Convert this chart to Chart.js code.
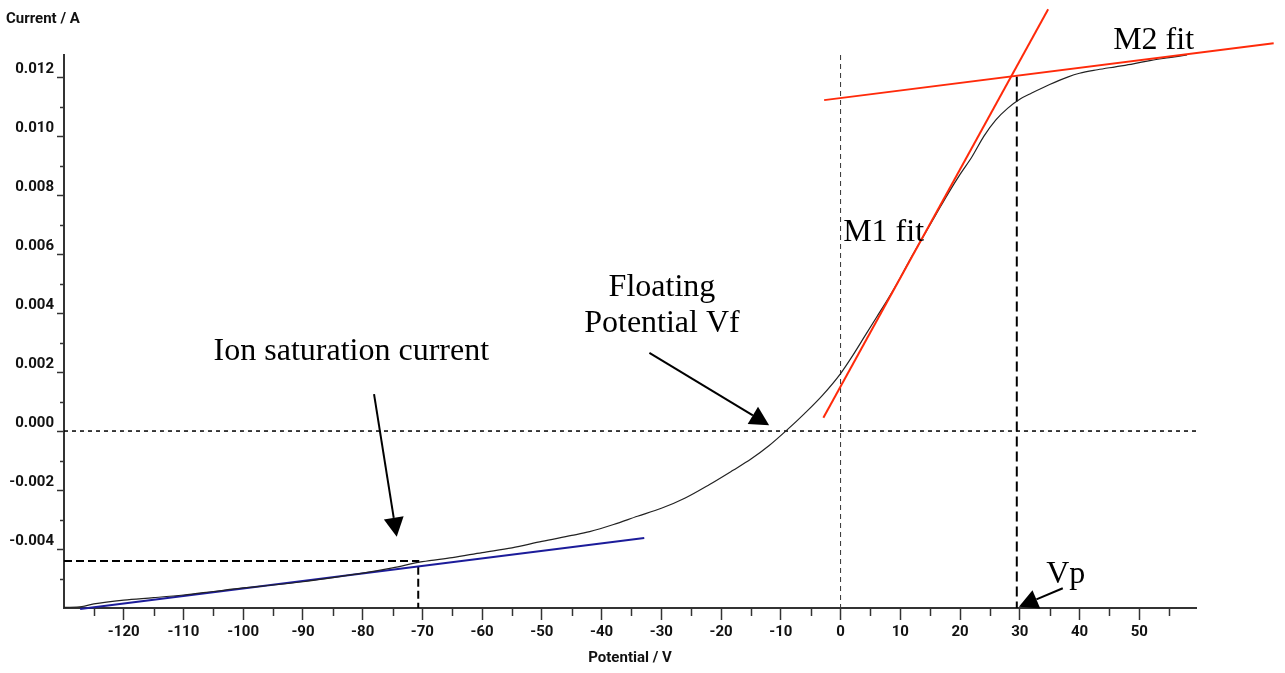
<!DOCTYPE html>
<html><head><meta charset="utf-8">
<script src="https://cdn.jsdelivr.net/npm/chart.js@4.4.1/dist/chart.umd.min.js"></script>
<style>html,body{margin:0;padding:0;background:#fff;}canvas{display:block;}</style>
</head><body>
<canvas id="c" width="1285" height="673"></canvas>
<script>
// ---- data (Potential in V, Current in A) ----
const potential = [-130,-127,-125,-120,-115,-110,-105,-100,-95,-90,-85,-80,-75,-70,-65,-60,-55,-50,-45,-42,-38,-34,-30,-26,-22,-18,-15,-12,-9,-6,-3,0,2,4,6,8,10,12,14,16,18,20,22,24,26,28,30,32,35,38,40,43,46,49,52,55,58];
const current = [-0.00598,-0.00595,-0.00586,-0.00573,-0.00565,-0.00556,-0.00544,-0.00532,-0.00522,-0.00511,-0.00497,-0.00482,-0.00464,-0.00443,-0.00429,-0.00412,-0.00396,-0.00374,-0.00354,-0.00341,-0.00317,-0.00289,-0.00262,-0.00227,-0.00182,-0.00133,-0.00095,-0.00050,0.00003,0.00060,0.00122,0.00195,0.00255,0.00320,0.00385,0.00450,0.00520,0.00595,0.00665,0.00735,0.00805,0.00870,0.00930,0.01000,0.01055,0.01095,0.01125,0.01146,0.01175,0.01200,0.01213,0.01225,0.01235,0.01245,0.01257,0.01266,0.01275];
const m1FitV = [-2.88, 34.75];
const m1FitI = [0.00045, 0.01430];
const m2FitV = [-2.75, 72.5];
const m2FitI = [0.01122, 0.01315];
const ionFitV = [-127.3, -32.86];
const ionFitI = [-0.00603, -0.00363];
const ionSatV = [-130, -70.7, -70.7];
const ionSatI = [-0.00441, -0.00441, -0.006];
const vpV = [29.5, 29.5];
const vpI = [0.01202, -0.006];
const zeroV = [0, 0];
const zeroVI = [0.01275, -0.006];
const zeroIV = [-130, 59.5];
const zeroII = [0, 0];
const xTickValues = [-125,-120,-115,-110,-105,-100,-95,-90,-85,-80,-75,-70,-65,-60,-55,-50,-45,-40,-35,-30,-25,-20,-15,-10,-5,0,5,10,15,20,25,30,35,40,45,50,55];
const yTickValues = [-0.005,-0.004,-0.003,-0.002,-0.001,0,0.001,0.002,0.003,0.004,0.005,0.006,0.007,0.008,0.009,0.010,0.011,0.012];
const xTitle = 'Potential / V';
const yTitle = 'Current / A';
const noteTexts = ['Ion saturation current','Floating','Potential Vf','M1 fit','M2 fit','Vp'];

// ---- layout of annotations (data coordinates) ----
const notePos = [[-81.9,0.00241],[-29.9,0.00458],[-29.9,0.00337],[7.2,0.00645],[52.4,0.01297],[37.7,-0.00516]];
const arrowPos = [
  [[-78.1,0.00125],[-74.3,-0.00358]],
  [[-32.0,0.00265],[-11.96,0.0002]],
  [[37.2,-0.00533],[29.85,-0.00596]]
];

const pts = (xs, ys) => xs.map((v, i) => ({x: v, y: ys[i]}));
const axisFamily = "Roboto,'Liberation Sans',sans-serif";
const axisFont = {family: axisFamily, size: 15, weight: 'bold'};
const isMajorX = v => Math.round(v) % 10 === 0;
const isMajorY = v => Math.round(v * 1000) % 2 === 0;

const annot = {
  id: 'annot',
  afterDatasetsDraw(chart) {
    const ctx = chart.ctx, xs = chart.scales.x, ys = chart.scales.y;
    ctx.save();
    // minor ticks
    ctx.strokeStyle = '#333'; ctx.lineWidth = 1.5;
    xTickValues.forEach(v => {
      if (isMajorX(v)) return;
      const px = Math.round(xs.getPixelForValue(v)) + 0.5;
      ctx.beginPath(); ctx.moveTo(px, xs.top); ctx.lineTo(px, xs.top + 8); ctx.stroke();
    });
    yTickValues.forEach(v => {
      if (isMajorY(v)) return;
      const py = Math.round(ys.getPixelForValue(v)) + 0.5;
      ctx.beginPath(); ctx.moveTo(ys.right - 4, py); ctx.lineTo(ys.right, py); ctx.stroke();
    });
    // texts
    ctx.fillStyle = '#000';
    ctx.font = "32px 'Liberation Serif','Times New Roman',serif";
    ctx.textAlign = 'center'; ctx.textBaseline = 'alphabetic';
    noteTexts.forEach((t, i) => {
      ctx.fillText(t, xs.getPixelForValue(notePos[i][0]), ys.getPixelForValue(notePos[i][1]));
    });
    // arrows
    arrowPos.forEach(a => {
      const x1 = xs.getPixelForValue(a[0][0]), y1 = ys.getPixelForValue(a[0][1]);
      const x2 = xs.getPixelForValue(a[1][0]), y2 = ys.getPixelForValue(a[1][1]);
      const ang = Math.atan2(y2 - y1, x2 - x1), hl = 19, hw = 10;
      const bx = x2 - hl * Math.cos(ang), by = y2 - hl * Math.sin(ang);
      ctx.strokeStyle = '#000'; ctx.lineWidth = 2;
      ctx.beginPath(); ctx.moveTo(x1, y1); ctx.lineTo(bx, by); ctx.stroke();
      ctx.beginPath(); ctx.moveTo(x2, y2);
      ctx.lineTo(bx + hw * Math.sin(ang), by - hw * Math.cos(ang));
      ctx.lineTo(bx - hw * Math.sin(ang), by + hw * Math.cos(ang));
      ctx.closePath(); ctx.fillStyle = '#000'; ctx.fill();
    });
    // y title
    ctx.font = "bold 15px " + axisFamily;
    ctx.textAlign = 'left'; ctx.fillStyle = '#111';
    ctx.fillText(yTitle, 6, 23);
    ctx.restore();
  }
};

new Chart(document.getElementById('c'), {
  type: 'line',
  data: {
    datasets: [
      {data: pts(potential, current), borderColor: '#222', borderWidth: 1.2, pointRadius: 0, cubicInterpolationMode: 'monotone', order: 1},
      {data: pts(m1FitV, m1FitI), borderColor: '#ff2a0a', borderWidth: 2, pointRadius: 0, clip: false, order: 0},
      {data: pts(m2FitV, m2FitI), borderColor: '#ff2a0a', borderWidth: 2, pointRadius: 0, clip: false, order: 0},
      {data: pts(ionFitV, ionFitI), borderColor: '#1c1c9a', borderWidth: 2, pointRadius: 0, clip: false, order: 2},
      {data: pts(ionSatV, ionSatI), borderColor: '#000', borderWidth: 2, borderDash: [8, 4], pointRadius: 0, order: 3},
      {data: pts(vpV, vpI), borderColor: '#000', borderWidth: 2, borderDash: [10, 5], pointRadius: 0, order: 3},
      {data: pts(zeroV, zeroVI), borderColor: '#333', borderWidth: 1, borderDash: [5, 4], pointRadius: 0, order: 3},
      {data: pts(zeroIV, zeroII), borderColor: '#000', borderWidth: 1.5, borderDash: [4, 4], pointRadius: 0, order: 3}
    ]
  },
  options: {
    responsive: false, animation: false, devicePixelRatio: 1,
    layout: {padding: {top: 55, right: 89, left: 0, bottom: 0}},
    plugins: {legend: {display: false}, tooltip: {enabled: false}},
    scales: {
      x: {
        type: 'linear', min: -130, max: 59.5,
        afterBuildTicks: s => { s.ticks = xTickValues.map(v => ({value: v})); },
        afterFit: s => { s.height = 65; },
        ticks: {autoSkip: false, maxRotation: 0, padding: 3, color: '#111', font: axisFont,
          callback: v => isMajorX(v) ? String(v) : ''},
        grid: {drawOnChartArea: false, drawTicks: true, tickLength: 12, tickWidth: 1.5,
          tickColor: c => (c.tick && isMajorX(c.tick.value)) ? '#333' : 'rgba(0,0,0,0)'},
        border: {color: '#333', width: 2},
        title: {display: true, text: xTitle, color: '#111', font: axisFont, padding: {top: 0, bottom: 6}}
      },
      y: {
        type: 'linear', min: -0.006, max: 0.01275,
        afterBuildTicks: s => { s.ticks = yTickValues.map(v => ({value: v})); },
        afterFit: s => { s.width = 64; },
        ticks: {autoSkip: false, padding: 3, labelOffset: -8, color: '#111', font: axisFont,
          callback: v => isMajorY(v) ? v.toFixed(3) : ''},
        grid: {drawOnChartArea: false, drawTicks: true, tickLength: 7, tickWidth: 1.5,
          tickColor: c => (c.tick && isMajorY(c.tick.value)) ? '#333' : 'rgba(0,0,0,0)'},
        border: {color: '#333', width: 2}
      }
    }
  },
  plugins: [annot]
});
</script>
</body></html>
